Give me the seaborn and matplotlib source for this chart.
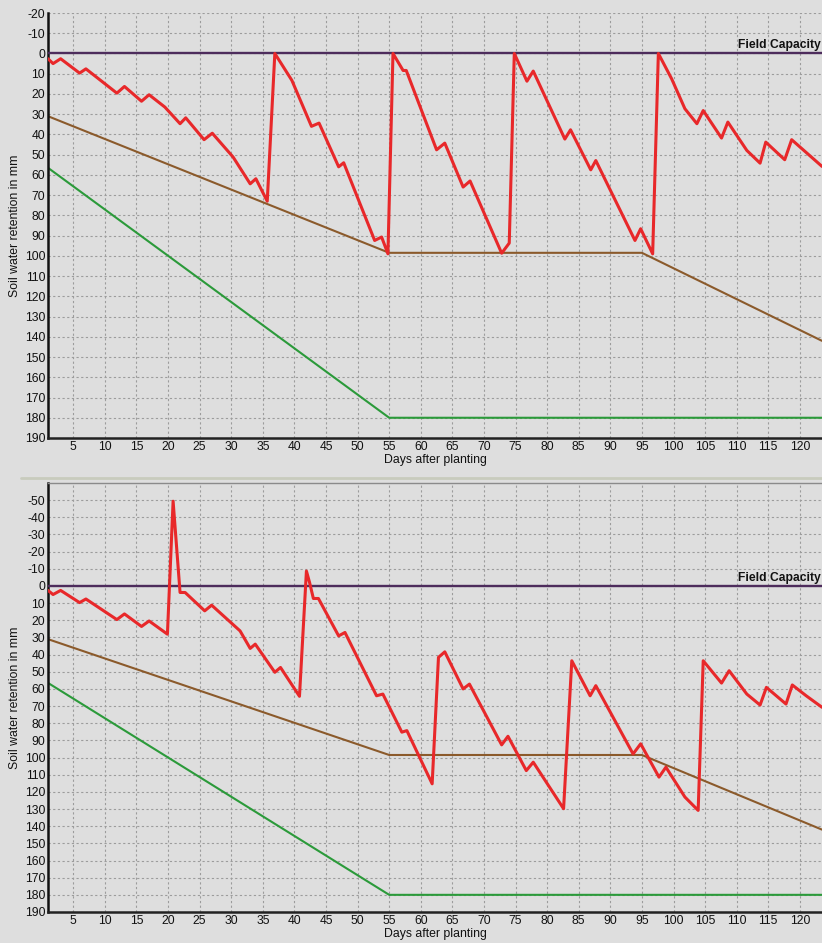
import matplotlib
matplotlib.use("Agg")
import matplotlib.pyplot as plt
from matplotlib.lines import Line2D
import seaborn as sns

# Soil water deficit (mm below field capacity), scenario 1
top_days = [1, 1.8, 3, 6, 7, 11.9, 13.1, 15.8, 17, 19.5, 21.9, 22.8, 25.7, 27, 30.3,
            33, 33.9, 35.7, 36.9, 39.6, 42.7, 43.9, 47, 47.8, 52.7, 53.8, 54.8, 55.6,
            57.2, 57.7, 62.5, 63.8, 66.7, 67.8, 72.8, 74, 74.8, 76.8, 77.8, 82.8, 83.7,
            86.9, 87.7, 93.9, 94.8, 96.7, 97.6, 99.7, 101.8, 103.7, 104.7, 107.6, 108.6,
            111.6, 113.7, 114.6, 117.6, 118.7, 123.5]
top_deficit = [2.6, 5, 2.6, 9.7, 7.6, 19.6, 16.3, 23.6, 20.4, 26.5, 34.7, 31.8, 42.6, 39.4,
               51.2, 64.4, 61.9, 73, 0, 13.3, 36, 34.4, 56, 54, 92.4, 90.7, 99, 0, 8.4, 8.4,
               47.6, 44.3, 66, 63, 98.7, 93.7, 0, 13.7, 8.7, 42.3, 37.7, 57.5, 52.9, 92.4,
               86.6, 99, 0, 12.5, 27.3, 34.7, 28.2, 41.8, 33.9, 47.9, 54.2, 43.8, 52.5,
               42.6, 55.8]

# Soil water deficit, scenario 2
bot_days = [1, 1.8, 3, 6, 7, 11.9, 13.1, 15.8, 17, 19.9, 20.8, 21.9, 22.7, 25.8, 26.9,
            31.4, 33, 33.8, 36.9, 37.8, 40.8, 41.9, 42.4, 43, 43.8, 47, 48, 53, 54, 57,
            57.8, 61.8, 62.8, 63.8, 66.7, 67.7, 72.8, 73.8, 76.7, 77.8, 82.6, 83.9, 86.8,
            87.7, 93.6, 94.8, 97.7, 98.8, 101.8, 103.9, 104.7, 107.6, 108.8, 111.6, 113.7,
            114.7, 117.8, 118.8, 121, 123.5]
bot_deficit = [2.6, 5, 2.6, 9.7, 7.6, 19.6, 16.3, 23.6, 20.4, 28.1, -49.4, 3.8, 3.8, 14.5,
               11.2, 26.2, 36.4, 33.9, 50.3, 47.5, 64.3, -8.7, -2, 7.3, 7.3, 29.1, 27.1, 64,
               63, 85.2, 84.3, 115.3, 41.6, 38.4, 60, 57.2, 92.6, 87.6, 107.6, 102.7, 129.8,
               43.6, 64, 58.1, 97.9, 92, 111.4, 105.6, 123, 130.8, 43.6, 56.6, 49.4, 63,
               69.4, 59.1, 68.8, 57.7, 64, 70.7]

# Readily available water threshold and total available water
raw_days = [1, 55, 95, 123.5]
raw_vals = [31, 98.5, 98.5, 142]
taw_days = [1, 55, 123.5]
taw_vals = [56.5, 180, 180]

x_ticks = list(range(5, 121, 5))
top_yticks = list(range(-20, 191, 10))
bot_yticks = list(range(-50, 191, 10))

BG = "#dedede"
RED = "#e8282a"
BROWN = "#8b5a2b"
GREEN = "#2b9a3a"
PURPLE = "#4d2c5c"
GRID = "#9c9c9c"

sns.set_theme(style="whitegrid")
plt.rcParams["font.family"] = ["Liberation Sans", "DejaVu Sans"]
plt.rcParams["axes.unicode_minus"] = False

fig = plt.figure(figsize=(8.22, 9.43), dpi=100, facecolor=BG)
W, H = 822, 943


def make_axes(top_px, bottom_px):
    return fig.add_axes([48 / W, 1 - bottom_px / H, (W - 48) / W, (bottom_px - top_px) / H])


ax_top = make_axes(13, 438)
ax_bot = make_axes(483, 912)

panels = [
    (ax_top, top_days, top_deficit, (190, -20), top_yticks),
    (ax_bot, bot_days, bot_deficit, (190, -60), bot_yticks),
]

for ax, days, deficit, ylim, yticks in panels:
    ax.set_facecolor(BG)
    ax.set_xlim(1, 123.5)
    ax.set_ylim(*ylim)
    ax.set_xticks(x_ticks)
    ax.set_yticks(yticks)
    ax.tick_params(axis="both", length=0, labelsize=8.7, colors="#111111", pad=2)
    ax.grid(True, color=GRID, linestyle=(0, (2.0, 2.2)), linewidth=0.8)

    sns.lineplot(x=taw_days, y=taw_vals, ax=ax, color=GREEN, linewidth=1.5,
                 sort=False, estimator=None)
    sns.lineplot(x=raw_days, y=raw_vals, ax=ax, color=BROWN, linewidth=1.5,
                 sort=False, estimator=None)
    ax.axhline(0, color=PURPLE, linewidth=1.7, zorder=3)
    sns.lineplot(x=days, y=deficit, ax=ax, color=RED, linewidth=2.2,
                 sort=False, estimator=None, zorder=4)

    ax.annotate("Field Capacity", xy=(1.0, 0), xycoords=("axes fraction", "data"),
                xytext=(-1, 1.5), textcoords="offset points", ha="right", va="bottom",
                fontsize=8.7, fontweight="bold", color="#111111")

    ax.set_xlabel("Days after planting", fontsize=8.8, labelpad=1, color="#111111")
    ax.set_ylabel("Soil water retention in mm", fontsize=8.8, labelpad=3, color="#111111")

    ax.spines["right"].set_visible(False)
    ax.spines["left"].set_color("#111111")
    ax.spines["left"].set_linewidth(1.8)
    ax.spines["bottom"].set_color("#222222")
    ax.spines["bottom"].set_linewidth(1.8)

ax_top.spines["top"].set_visible(False)
ax_bot.spines["top"].set_color("#8a8a8a")
ax_bot.spines["top"].set_linewidth(1.0)

# Separator band between the two panels
fig.add_artist(Line2D([0.025, 1.0], [1 - 478 / H, 1 - 478 / H], transform=fig.transFigure,
                      color="#c8cbbd", linewidth=2.0))

fig.savefig("out.png", dpi=100, facecolor=BG)
